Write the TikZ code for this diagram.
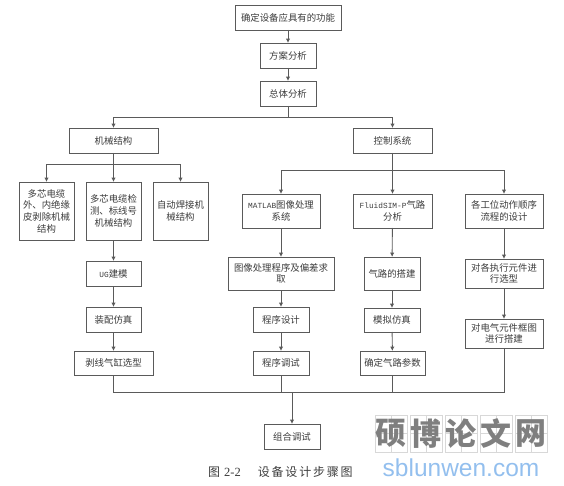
\documentclass[tikz,border=0pt]{standalone}
\usepackage{fontspec}
\setmainfont{Noto Sans CJK SC}
\newfontfamily\latfont{Liberation Mono}
\newfontfamily\capfont[LetterSpace=15]{Noto Sans CJK SC}
\newfontfamily\capnum{Liberation Serif}
\newfontfamily\wmfont{Liberation Sans}
\newcommand{\lat}[1]{{\latfont\fontsize{7.8bp}{11.7bp}\selectfont #1}}
\definecolor{linec}{HTML}{5A5A5A}
\definecolor{textc}{HTML}{3C3C3C}
\definecolor{wmgrey}{HTML}{7F7F7F}
\definecolor{wmgrid}{HTML}{D8D8D8}
\definecolor{wmblue}{HTML}{93BFEE}
\usetikzlibrary{arrows.meta}
\tikzset{
  stepbox/.style={draw=linec,line width=0.9bp,fill=white,text=textc,align=center,inner sep=0pt,outer sep=0pt,
    font=\fontsize{9.4bp}{11.7bp}\selectfont},
  link/.style={draw=linec,line width=0.9bp},
  flow/.style={link,-{Latex[length=4.4bp,width=4.4bp]}},
  wmcell/.style={draw=wmgrid,line width=0.6bp,minimum width=32bp,minimum height=37bp,inner sep=0pt,outer sep=0pt,text=wmgrey,
    font=\fontsize{31bp}{31bp}\selectfont\bfseries,
    path picture={\draw[wmgrid,line width=0.4bp] (path picture bounding box.north) -- (path picture bounding box.south)
      (path picture bounding box.west) -- (path picture bounding box.east);}},
}
% #1 name, #2 x1, #3 y1, #4 x2, #5 y2, #6 text
\newcommand{\stepnode}[6]{%
  \pgfmathsetmacro{\bw}{#4-#2}\pgfmathsetmacro{\bh}{#5-#3}%
  \pgfmathsetmacro{\bx}{(#2+#4)/2}\pgfmathsetmacro{\by}{(#3+#5)/2}%
  \node[stepbox,minimum width=\bw bp,minimum height=\bh bp] (#1) at (\bx,\by) {#6};}
\begin{document}
\begin{tikzpicture}[x=1bp,y=-1bp]
\useasboundingbox (0,0) rectangle (564,486);
\stepnode{need}{235}{5}{341}{30}{确定设备应具有的功能}
\stepnode{plan}{260}{43}{316}{68}{方案分析}
\stepnode{over}{260}{81}{316}{106}{总体分析}
\stepnode{mech}{69}{128}{158}{153}{机械结构}
\stepnode{ctrl}{353}{128}{432}{153}{控制系统}
\stepnode{strip}{19}{182}{74}{240}{多芯电缆\\外、内绝缘\\皮剥除机械\\结构}
\stepnode{detect}{86}{182}{141}{240}{多芯电缆检\\测、标线号\\机械结构}
\stepnode{weld}{153}{182}{208}{240}{自动焊接机\\械结构}
\stepnode{matlab}{242}{194}{320}{228}{\lat{MATLAB}图像处理\\系统}
\stepnode{fluid}{353}{194}{432}{228}{\lat{FluidSIM-P}气路\\分析}
\stepnode{order}{465}{194}{543}{228}{各工位动作顺序\\流程的设计}
\stepnode{ug}{86}{261}{141}{286}{\lat{UG}建模}
\stepnode{image}{228}{257}{334}{290}{图像处理程序及偏差求\\取}
\stepnode{gas}{364}{257}{420}{290}{气路的搭建}
\stepnode{select}{465}{259}{543}{288}{对各执行元件进\\行选型}
\stepnode{asm}{86}{307}{141}{332}{装配仿真}
\stepnode{prog}{253}{307}{309}{332}{程序设计}
\stepnode{sim}{364}{308}{420}{332}{模拟仿真}
\stepnode{elec}{465}{319}{543}{348}{对电气元件框图\\进行搭建}
\stepnode{cyl}{74}{351}{153}{375}{剥线气缸选型}
\stepnode{debug}{253}{351}{309}{375}{程序调试}
\stepnode{param}{360}{351}{425}{375}{确定气路参数}
\stepnode{joint}{264}{424}{320}{449}{组合调试}
% coordinates of the bus lines
\coordinate (topbus) at (288,117);
\coordinate (mechbus) at (113.5,164);
\coordinate (ctrlbus) at (392.5,170);
\coordinate (endbus) at (292,392);
% main chain
\draw[flow] (need) -- (plan);
\draw[flow] (plan) -- (over);
\draw[link] (over) -- (topbus);
\draw[flow] (topbus) -| (mech);
\draw[flow] (topbus) -| (ctrl);
% mechanical branch
\draw[link] (mech) -- (mechbus);
\draw[flow] (mechbus) -| (strip);
\draw[flow] (mechbus) -- (detect);
\draw[flow] (mechbus) -| (weld);
\draw[flow] (detect) -- (ug);
\draw[flow] (ug) -- (asm);
\draw[flow] (asm) -- (cyl);
% control branch
\draw[link] (ctrl) -- (ctrlbus);
\draw[flow] (ctrlbus) -| (matlab);
\draw[flow] (ctrlbus) -- (fluid);
\draw[flow] (ctrlbus) -| (order);
\draw[flow] (matlab) -- (image);
\draw[flow] (image) -- (prog);
\draw[flow] (prog) -- (debug);
\draw[flow] (fluid) -- (gas);
\draw[flow] (gas) -- (sim);
\draw[flow] (sim) -- (param);
\draw[flow] (order) -- (select);
\draw[flow] (select) -- (elec);
% collection line
\draw[link] (cyl) |- (endbus);
\draw[link] (debug) |- (endbus);
\draw[link] (param) |- (endbus);
\draw[link] (elec) |- (endbus);
\draw[flow] (endbus) -- (joint);
% caption
\node[text=textc,inner sep=0pt,anchor=west] (cap) at (208,472)
  {\fontsize{12bp}{14bp}\capfont 图\hspace{4bp}{\capnum\fontsize{12.5bp}{14bp}\selectfont 2-2}\hspace{17bp}设备设计步骤图};
% watermark
\node[wmcell] (w1) at (391,433.5) {硕};
\node[wmcell] (w2) at (426,433.5) {博};
\node[wmcell] (w3) at (461,433.5) {论};
\node[wmcell] (w4) at (496,433.5) {文};
\node[wmcell] (w5) at (531,433.5) {网};
\node[text=wmblue,inner sep=0pt] (wurl) at (461,467.5) {\wmfont\fontsize{24.5bp}{26bp}\selectfont sblunwen.com};
\end{tikzpicture}
\end{document}
